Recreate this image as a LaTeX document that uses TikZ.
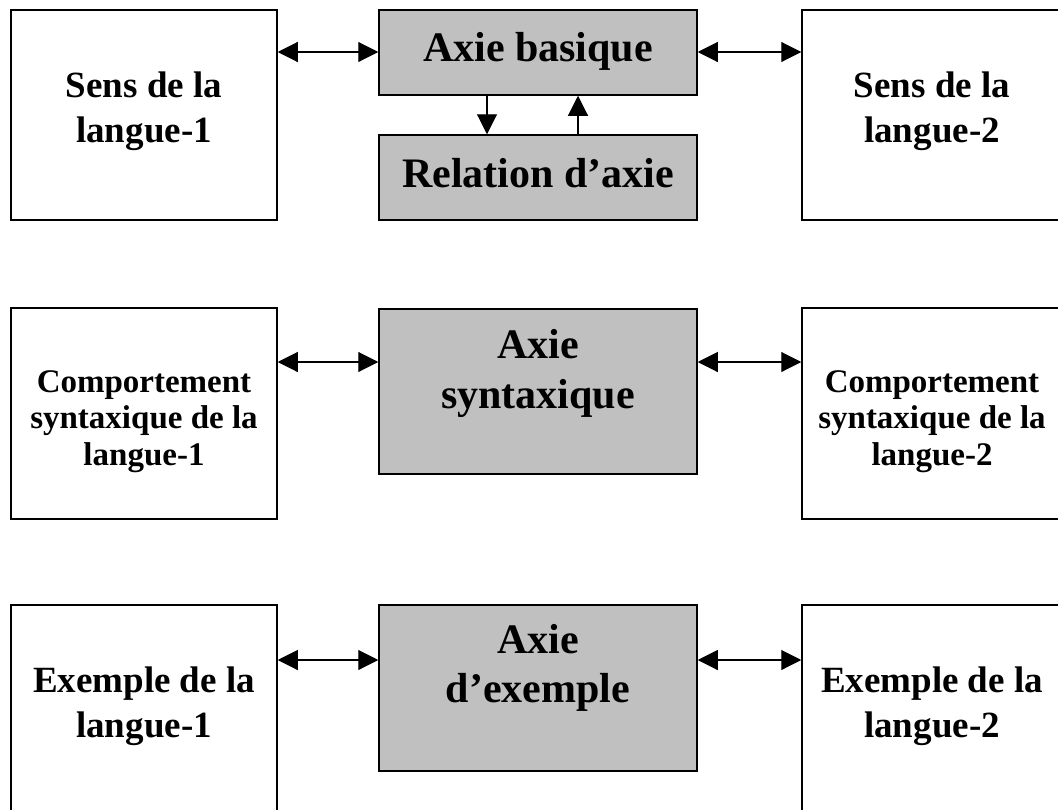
\documentclass[tikz,border=0pt]{standalone}
\usepackage{fontspec}
\setmainfont{Liberation Serif}
\usetikzlibrary{arrows.meta}
\definecolor{boxgray}{HTML}{C0C0C0}
\tikzset{
  outerbox/.style={draw=black, line width=1.5pt, fill=white, rectangle, inner sep=0pt},
  axisbox/.style={draw=black, line width=1.5pt, fill=boxgray, rectangle, inner sep=0pt},
  txt/.style={anchor=base, inner sep=0pt, font=\bfseries},
  tiptri/.tip={Triangle[length=20pt,width=20pt]},
  link/.style={line width=1.1pt, tiptri-tiptri},
  oneway/.style={line width=1.1pt, -tiptri}
}
\newcommand{\lines}[3]{\fontsize{#1}{#2}\selectfont\begin{tabular}[t]{@{}c@{}}#3\end{tabular}}
\begin{document}
\begin{tikzpicture}[x=1pt,y=-1pt]
\useasboundingbox (0,0) rectangle (1058,809);
\clip (0,0) rectangle (1058,809);
\fill[white] (0,0) rectangle (1058,809);

% row 1: meaning
\node[outerbox, minimum width=266pt, minimum height=210pt] (L1) at (144,115) {};
\node[axisbox, minimum width=318pt, minimum height=85pt] (C1a) at (538,52.5) {};
\node[axisbox, minimum width=318pt, minimum height=85pt] (C1b) at (538,177.5) {};
\node[outerbox, minimum width=260pt, minimum height=210pt] (R1) at (932,115) {};
\node[txt] (L1t) at (144,97) {\lines{37}{45}{Sens de la\\langue-1}};
\node[txt] (C1at) at (538,61) {\lines{42}{50}{Axie basique}};
\node[txt] (C1bt) at (538,187) {\lines{42}{50}{Relation d’axie}};
\node[txt] (R1t) at (932,97) {\lines{37}{45}{Sens de la\\langue-2}};

% row 2: syntax
\node[outerbox, minimum width=266pt, minimum height=211pt] (L2) at (144,413.5) {};
\node[axisbox, minimum width=318pt, minimum height=165pt] (C2) at (538,391.5) {};
\node[outerbox, minimum width=260pt, minimum height=211pt] (R2) at (932,413.5) {};
\node[txt] (L2t) at (144,392) {\lines{33}{36.5}{Comportement\\syntaxique de la\\langue-1}};
\node[txt] (C2t) at (538,358) {\lines{42}{50}{Axie\\syntaxique}};
\node[txt] (R2t) at (932,392) {\lines{33}{36.5}{Comportement\\syntaxique de la\\langue-2}};

% row 3: examples
\node[outerbox, minimum width=266pt, minimum height=210pt] (L3) at (144,710) {};
\node[axisbox, minimum width=318pt, minimum height=166pt] (C3) at (538,688) {};
\node[outerbox, minimum width=260pt, minimum height=210pt] (R3) at (932,710) {};
\node[txt] (L3t) at (144,692) {\lines{37}{45}{Exemple de la\\langue-1}};
\node[txt] (C3t) at (538,653) {\lines{42}{49}{Axie\\d’exemple}};
\node[txt] (R3t) at (932,692) {\lines{37}{45}{Exemple de la\\langue-2}};

% connector heights and columns
\coordinate (h1) at (0,52);
\coordinate (h2) at (0,362);
\coordinate (h3) at (0,660);
\coordinate (vd) at (487,0);
\coordinate (vu) at (578,0);

\draw[link] (L1.east |- h1) -- (C1a.west |- h1);
\draw[link] (C1a.east |- h1) -- (R1.west |- h1);
\draw[oneway] (C1a.south -| vd) -- (C1b.north -| vd);
\draw[oneway] (C1b.north -| vu) -- (C1a.south -| vu);

\draw[link] (L2.east |- h2) -- (C2.west |- h2);
\draw[link] (C2.east |- h2) -- (R2.west |- h2);

\draw[link] (L3.east |- h3) -- (C3.west |- h3);
\draw[link] (C3.east |- h3) -- (R3.west |- h3);
\end{tikzpicture}
\end{document}
